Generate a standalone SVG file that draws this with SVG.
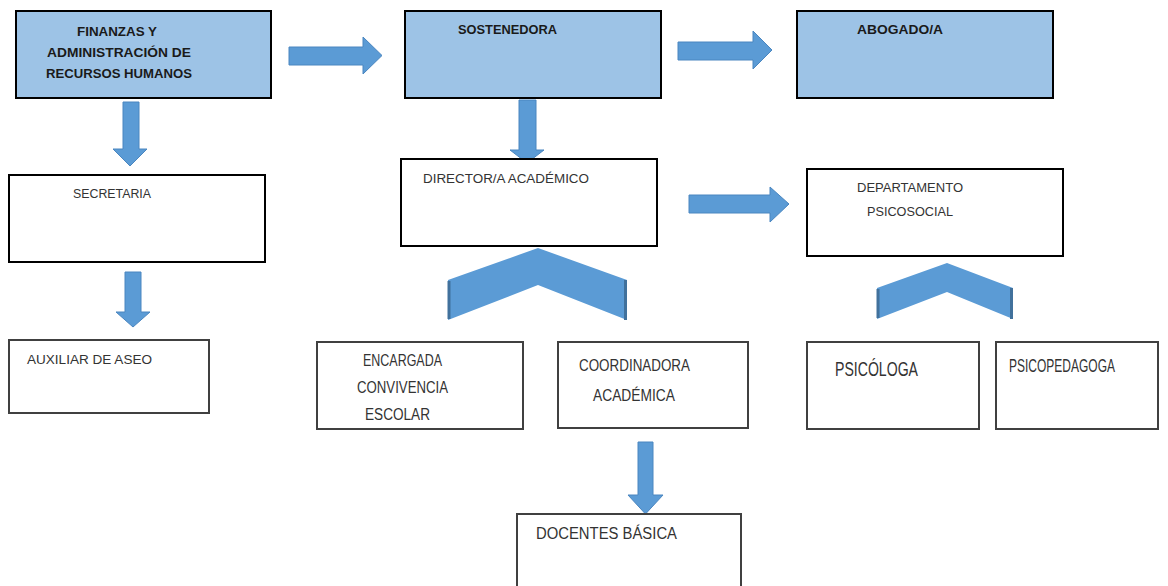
<svg xmlns="http://www.w3.org/2000/svg" width="1168" height="586" viewBox="0 0 1168 586">
<style>
.blue{fill:#9dc3e6;stroke:#000;stroke-width:2}
.wb{fill:#fff;stroke:#000;stroke-width:2}
.wg{fill:#fff;stroke:#404040;stroke-width:2}
.arr{fill:#5b9bd5;stroke:#4a86c0;stroke-width:1}
.chev{fill:#5b9bd5;stroke:none}
.side{stroke:#41719c;stroke-width:3}
text{font-family:"Liberation Sans",Arial,sans-serif;fill:#262626}
.b{font-weight:bold;font-size:12px;fill:#1a1a1a}
.n{font-size:12px;fill:#333}
.m{font-size:16px;fill:#333}
</style>
<rect width="1168" height="586" fill="#fff"/>
<g id="connectors">
<path class="arr" d="M289,47 H363 V37 L382,55.5 L363,74 V65 H289 Z"/>
<path class="arr" d="M678,42 H753 V31 L772,50 L753,69 V60 H678 Z"/>
<path class="arr" d="M689,195 H770 V187 L789,204 L770,222 V213 H689 Z"/>
<path class="arr" d="M123,102 H139 V149 H147 L130,166 L113,149 H123 Z"/>
<path class="arr" d="M125,272 H141 V312 H150 L133,327 L116,312 H125 Z"/>
<path class="arr" d="M519,100 H536 V150 H544 L527,163 L510,150 H519 Z"/>
<path class="arr" d="M638,442 H653 V495 H663 L645.5,514 L628,495 H638 Z"/>
<path class="chev" d="M448,320 V280 L538,248 L627,280 V320 L538,285 Z"/>
<line class="side" x1="625.5" y1="280" x2="625.5" y2="320"/>
<line class="side" x1="449" y1="281" x2="449" y2="319" stroke-width="2"/>
<path class="chev" d="M877,319 V288 L947,263 L1013,288 V319 L947,292 Z"/>
<line class="side" x1="1011.5" y1="288" x2="1011.5" y2="319"/>
<line class="side" x1="878" y1="289" x2="878" y2="318" stroke-width="2"/>
</g>
<g id="finanzas">
<rect class="blue" x="16" y="11" width="255" height="87"/>
<text class="b" x="77" y="36" textLength="80" lengthAdjust="spacingAndGlyphs">FINANZAS Y</text>
<text class="b" x="47" y="57" textLength="144" lengthAdjust="spacingAndGlyphs">ADMINISTRACIÓN DE</text>
<text class="b" x="46" y="78" textLength="146" lengthAdjust="spacingAndGlyphs">RECURSOS HUMANOS</text>
</g>
<g id="sostenedora">
<rect class="blue" x="405" y="11" width="256" height="87"/>
<text class="b" x="458" y="34" textLength="99" lengthAdjust="spacingAndGlyphs">SOSTENEDORA</text>
</g>
<g id="abogado">
<rect class="blue" x="797" y="11" width="256" height="87"/>
<text class="b" x="857" y="34" textLength="86" lengthAdjust="spacingAndGlyphs">ABOGADO/A</text>
</g>
<g id="secretaria">
<rect class="wb" x="9" y="175" width="256" height="87"/>
<text class="n" x="73" y="198" textLength="78" lengthAdjust="spacingAndGlyphs">SECRETARIA</text>
</g>
<g id="director">
<rect class="wb" x="401" y="159" width="256" height="87"/>
<text class="n" x="423" y="183" textLength="166" lengthAdjust="spacingAndGlyphs">DIRECTOR/A ACADÉMICO</text>
</g>
<g id="departamento">
<rect class="wb" x="807" y="169" width="256" height="87"/>
<text class="n" x="857" y="192" textLength="106" lengthAdjust="spacingAndGlyphs">DEPARTAMENTO</text>
<text class="n" x="867" y="216" textLength="86" lengthAdjust="spacingAndGlyphs">PSICOSOCIAL</text>
</g>
<g id="auxiliar">
<rect class="wg" x="9" y="340" width="200" height="73"/>
<text class="n" x="27" y="364" textLength="125" lengthAdjust="spacingAndGlyphs">AUXILIAR DE ASEO</text>
</g>
<g id="encargada">
<rect class="wg" x="317" y="342" width="206" height="87"/>
<text class="m" x="363" y="366" textLength="79" lengthAdjust="spacingAndGlyphs">ENCARGADA</text>
<text class="m" x="357" y="393" textLength="91" lengthAdjust="spacingAndGlyphs">CONVIVENCIA</text>
<text class="m" x="365" y="420" textLength="65" lengthAdjust="spacingAndGlyphs">ESCOLAR</text>
</g>
<g id="coordinadora">
<rect class="wg" x="558" y="342" width="190" height="86"/>
<text class="m" x="579" y="371" style="font-size:17px" textLength="111" lengthAdjust="spacingAndGlyphs">COORDINADORA</text>
<text class="m" x="593" y="401" style="font-size:17px" textLength="82" lengthAdjust="spacingAndGlyphs">ACADÉMICA</text>
</g>
<g id="psicologa">
<rect class="wg" x="807" y="342" width="172" height="87"/>
<text class="m" x="835" y="376" style="font-size:21px" textLength="83" lengthAdjust="spacingAndGlyphs">PSICÓLOGA</text>
</g>
<g id="psicopedagoga">
<rect class="wg" x="996" y="342" width="162" height="87"/>
<text class="m" x="1009" y="372" style="font-size:18px" textLength="106" lengthAdjust="spacingAndGlyphs">PSICOPEDAGOGA</text>
</g>
<g id="docentes">
<rect class="wg" x="517" y="514" width="224" height="80"/>
<text class="m" x="536" y="539" textLength="141" lengthAdjust="spacingAndGlyphs">DOCENTES BÁSICA</text>
</g>
</svg>
